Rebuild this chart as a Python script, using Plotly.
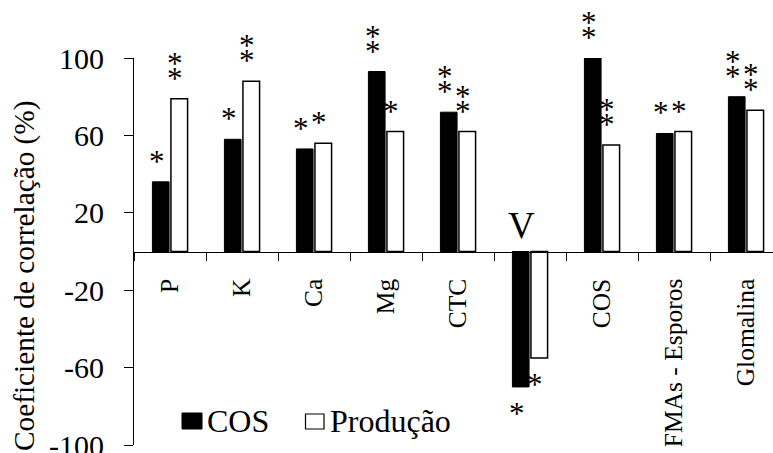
import plotly.graph_objects as go

categories = ["P", "K", "Ca", "Mg", "CTC", "V", "COS", "FMAs - Esporos", "Glomalina"]
tick_labels = ["P", "K", "Ca", "Mg", "CTC", "", "COS", "FMAs - Esporos", "Glomalina"]
cos_values = [36, 58, 53, 93, 72, -70, 100, 61, 80]
prod_values = [79, 88, 56, 62, 62, -55, 55, 62, 73]
cos_sig = ["*", "*", "*", "**", "**", "*", "**", "*", "**"]
prod_sig = ["**", "**", "*", "*", "**", "*", "**", "*", "**"]
y_ticks = [-100, -60, -20, 20, 60, 100]
y_tick_text = ["-100", "-60", "-20", "20", "60", "100"]

FONT = "Liberation Serif"

fig = go.Figure()
fig.add_trace(go.Bar(x=categories, y=cos_values, name="COS",
                     marker=dict(color="black", line=dict(color="black", width=1)),
                     showlegend=False))
fig.add_trace(go.Bar(x=categories, y=prod_values, name="Produção",
                     marker=dict(color="white", line=dict(color="black", width=1.5)),
                     showlegend=False))

BARGAP = 0.486
half = (1 - BARGAP) / 4.0
annotations = []
for i in range(len(categories)):
    for vals, sigs, dx in ((cos_values, cos_sig, -half), (prod_values, prod_sig, half)):
        v = vals[i]
        n = len(sigs[i])
        for k in range(n):
            sh = 23.5 + 15 * k
            annotations.append(dict(
                x=i + dx, y=v, xref="x", yref="y", text="*", showarrow=False,
                xanchor="center", yanchor="middle", xshift=-4,
                yshift=(sh if v >= 0 else -sh) - 3,
                font=dict(family=FONT, size=31, color="black")))

# V label above the zero line
annotations.append(dict(x=5, y=0, xref="x", yref="y", text="V", showarrow=False,
                        xanchor="center", yanchor="bottom", xshift=-9, yshift=4,
                        font=dict(family=FONT, size=37, color="black")))
# y-axis title
annotations.append(dict(x=(24 - 134) / 639, y=(445 - 276) / 387, xref="paper", yref="paper",
                        text="Coeficiente de correlação (%)", textangle=-90, showarrow=False,
                        xanchor="center", yanchor="middle",
                        font=dict(family=FONT, size=29.3, color="black")))
# legend texts
annotations.append(dict(x=(205 - 134) / 639, y=(445 - 421) / 387, xref="paper", yref="paper",
                        text="COS", showarrow=False, xanchor="left", yanchor="middle",
                        font=dict(family=FONT, size=32, color="black")))
annotations.append(dict(x=(328 - 134) / 639, y=(445 - 421) / 387, xref="paper", yref="paper",
                        text="Produção", showarrow=False, xanchor="left", yanchor="middle",
                        font=dict(family=FONT, size=32, color="black")))

def px_x(p):
    return (p - 134) / 639

def px_y(p):
    return (445 - p) / 387

shapes = [
    dict(type="rect", xref="paper", yref="paper", x0=px_x(182), x1=px_x(202),
         y0=px_y(429), y1=px_y(413), fillcolor="black", line=dict(color="black", width=1)),
    dict(type="rect", xref="paper", yref="paper", x0=px_x(305.5), x1=px_x(324),
         y0=px_y(429), y1=px_y(414), fillcolor="white", line=dict(color="black", width=1.2)),
]

fig.update_layout(
    width=773, height=453,
    margin=dict(l=134, r=0, t=58, b=8, autoexpand=False),
    paper_bgcolor="white", plot_bgcolor="white",
    barmode="group", bargap=BARGAP, bargroupgap=0.1,
    font=dict(family=FONT, color="black"),
    annotations=annotations, shapes=shapes,
    xaxis=dict(type="category", range=[-0.5, 8.375], anchor="free", position=0.5,
               showline=True, linecolor="black", linewidth=1,
               ticks="outside", ticklen=8, tickcolor="black", tickson="boundaries",
               tickmode="array", tickvals=categories, ticktext=tick_labels,
               tickangle=-90, tickfont=dict(family=FONT, size=25.5, color="black"),
               showgrid=False, zeroline=False, ticklabelstandoff=16,
               ticklabeloverflow="allow", automargin=False),
    yaxis=dict(range=[-100, 100], tickmode="array", tickvals=y_ticks, ticktext=y_tick_text,
               showline=True, linecolor="black", linewidth=1,
               ticks="outside", ticklen=9, tickcolor="black",
               tickfont=dict(family=FONT, size=30, color="black"),
               showgrid=False, zeroline=False, ticklabelstandoff=14,
               ticklabeloverflow="allow", automargin=False),
)

fig.write_html("out.html", config={"displayModeBar": False},
               post_script="document.body.style.margin='0';document.body.style.padding='0';")
